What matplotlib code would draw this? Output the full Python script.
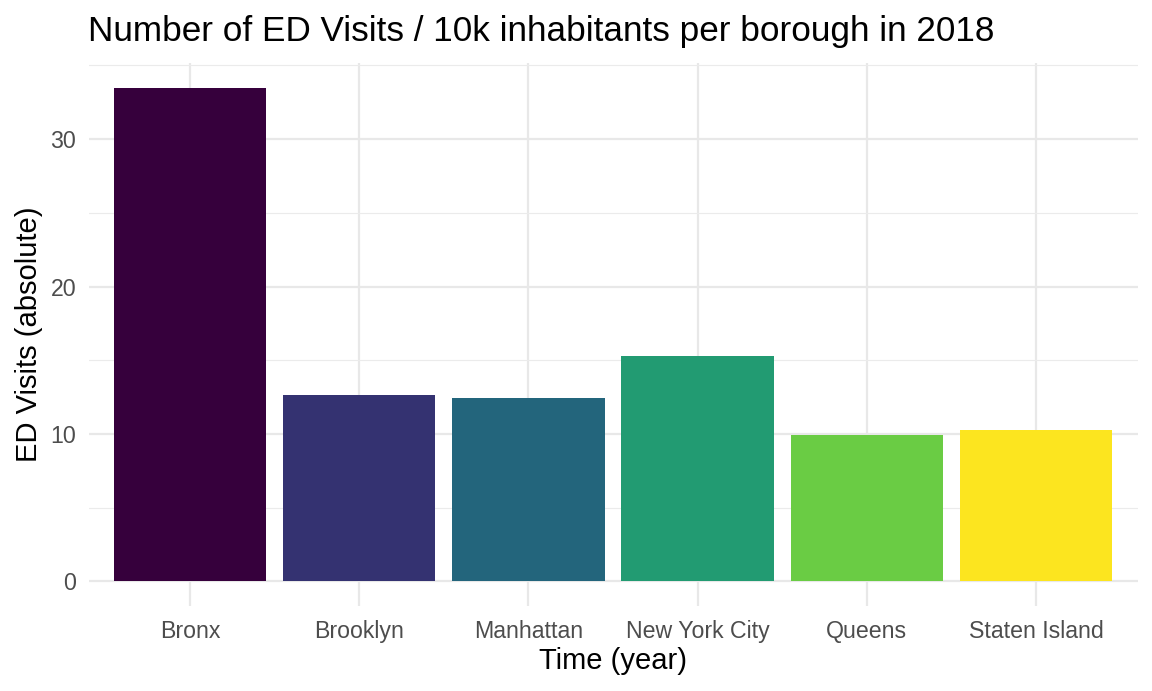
import numpy as np
import matplotlib
matplotlib.use('Agg')
import matplotlib.pyplot as plt
from matplotlib.ticker import MultipleLocator

# data
boroughs = ['Bronx', 'Brooklyn', 'Manhattan', 'New York City', 'Queens', 'Staten Island']
visits = [33.49, 12.61, 12.47, 15.31, 9.91, 10.24]
colours = ['#36003C', '#343271', '#23657C', '#229B72', '#6ACC44', '#FCE51F']

matplotlib.rcParams['font.family'] = ['Liberation Sans', 'DejaVu Sans']

fig = plt.figure(figsize=(11.52, 6.91), dpi=100)
ax = fig.add_axes([88.5 / 1152, 1 - 606 / 691, 1049 / 1152, 543 / 691])

x = np.arange(len(boroughs))
ax.bar(x, visits, width=0.9, color=colours, zorder=2)

# ggplot-like expansion
ax.set_xlim(-0.6, len(boroughs) - 1 + 0.6)
top = max(visits)
ax.set_ylim(-0.05 * top, 1.05 * top)

ax.set_xticks(x)
ax.set_xticklabels(boroughs)
ax.yaxis.set_major_locator(MultipleLocator(10))
ax.yaxis.set_minor_locator(MultipleLocator(5))

ax.grid(which='major', color='#E8E8E8', linewidth=1.6, zorder=0)
ax.grid(which='minor', axis='y', color='#EBEBEB', linewidth=0.8, zorder=0)
ax.set_axisbelow(True)
for s in ax.spines.values():
    s.set_visible(False)
ax.tick_params(which='both', length=0, labelsize=16.7, labelcolor='#4D4D4D')
ax.tick_params(axis='x', pad=10)
ax.tick_params(axis='y', pad=9)

ax.set_xlabel('Time (year)', fontsize=21, labelpad=3)
ax.set_ylabel('ED Visits (absolute)', fontsize=21, labelpad=5)
ax.set_title('Number of ED Visits / 10k inhabitants per borough in 2018',
             fontsize=25.3, loc='left', pad=16)

fig.savefig('out.png', dpi=100)
